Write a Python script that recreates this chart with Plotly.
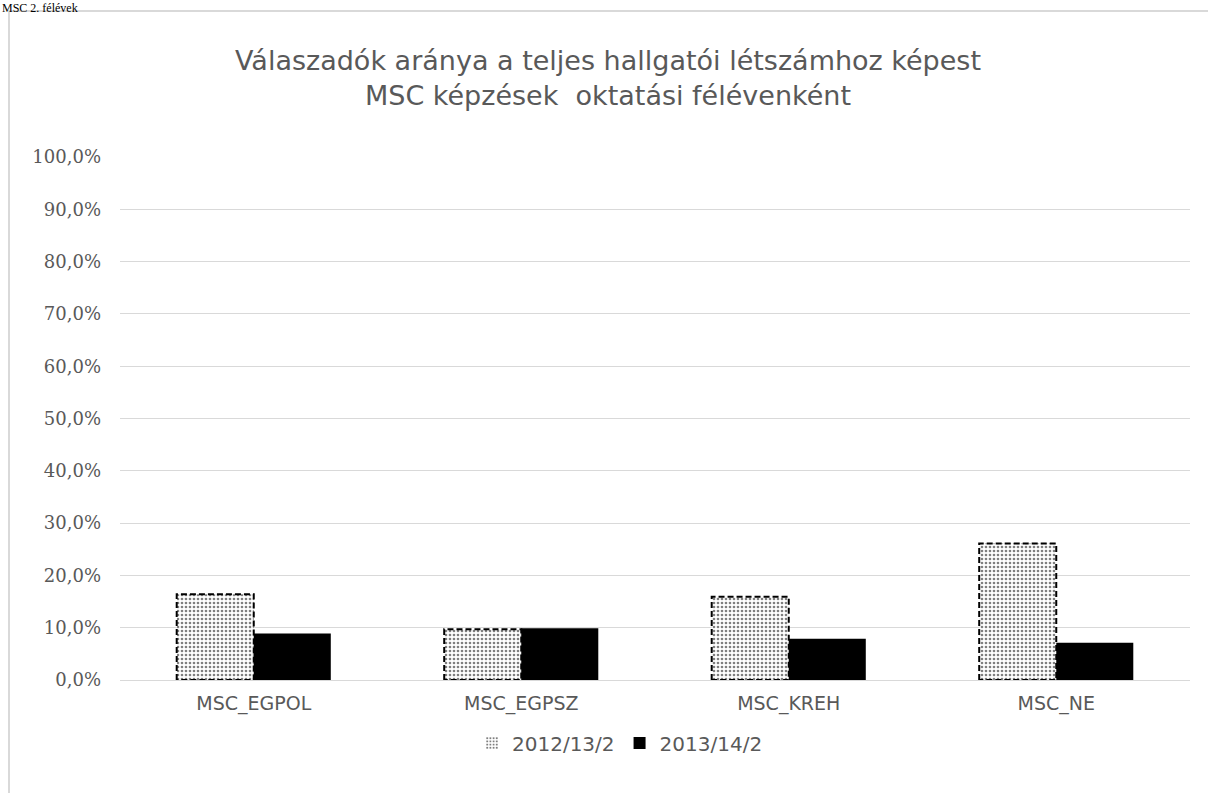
import plotly.graph_objects as go

categories = ["MSC_EGPOL", "MSC_EGPSZ", "MSC_KREH", "MSC_NE"]
series_names = ["2012/13/2", "2013/14/2"]
values_2012 = [16.4, 9.7, 15.9, 26.1]
values_2013 = [8.9, 9.9, 7.9, 7.1]
y_ticks = [0, 10, 20, 30, 40, 50, 60, 70, 80, 90, 100]
y_tick_labels = ["0,0%", "10,0%", "20,0%", "30,0%", "40,0%", "50,0%",
                 "60,0%", "70,0%", "80,0%", "90,0%", "100,0%"]

W = 0.288  # bar width (style)
xs = list(range(len(categories)))

fig = go.Figure()
fig.add_trace(go.Bar(
    x=xs, y=values_2012, name=series_names[0],
    width=W, offset=-W,
    marker=dict(color="white", line=dict(width=0),
                pattern=dict(shape=".", fgcolor="#000000", bgcolor="#ffffff",
                             size=4, solidity=0.35)),
))
fig.add_trace(go.Bar(
    x=xs, y=values_2013, name=series_names[1],
    width=W, offset=0,
    marker=dict(color="#000000", line=dict(width=0)),
))

# dashed outline of the patterned bars, built from the data
ox, oy = [], []
for i, v in zip(xs, values_2012):
    ox += [i - W, i - W, i, i, i - W, None]
    oy += [0, v, v, 0, 0, None]
fig.add_trace(go.Scatter(
    x=ox, y=oy, mode="lines", showlegend=False, hoverinfo="skip",
    line=dict(color="#000000", width=2, dash="6px,3px"),
))

L, T, R, B = 120, 157, 18, 113
FW, FH = 1208, 793
PW, PH = FW - L - R, FH - T - B
Y0 = FH - B  # pixel row of the 0% line

fig.update_layout(
    width=FW, height=FH,
    margin=dict(l=L, r=R, t=T, b=B),
    paper_bgcolor="white", plot_bgcolor="white",
    barmode="overlay",
    title=dict(
        text="Válaszadók aránya a teljes hallgatói létszámhoz képest<br>MSC képzések  oktatási félévenként",
        x=608 / FW, xref="container", xanchor="center",
        y=1 - 70 / FH, yref="container", yanchor="top",
        font=dict(family="DejaVu Sans", size=27, color="#595959"),
    ),
    xaxis=dict(
        range=[-0.5, 3.5], tickvals=xs, ticktext=categories,
        showgrid=False, zeroline=False, showline=False, ticks="",
        tickfont=dict(family="DejaVu Sans", size=19, color="#595959"),
        ticklabelstandoff=10,
    ),
    yaxis=dict(
        range=[0, 100], tickvals=y_ticks, ticktext=y_tick_labels,
        showgrid=True, gridcolor="#d9d9d9", gridwidth=1,
        zeroline=True, zerolinecolor="#d9d9d9", zerolinewidth=1,
        showline=False, ticks="",
        tickfont=dict(family="DejaVu Serif", size=18, color="#595959"),
        ticklabelstandoff=18,
    ),
    legend=dict(
        orientation="h", x=(620 - L) / PW, xanchor="center",
        y=(Y0 - 743) / PH, yanchor="middle",
        font=dict(family="DejaVu Sans", size=20, color="#595959"),
        itemwidth=30,
    ),
    showlegend=True,
)

# outer chart frame
fig.add_shape(type="rect", xref="paper", yref="paper",
              x0=(9 - L) / PW, x1=(1220 - L) / PW,
              y0=(Y0 - 810) / PH, y1=(Y0 - 11) / PH,
              line=dict(color="#d9d9d9", width=2), fillcolor="rgba(0,0,0,0)",
              layer="below")

fig.add_annotation(
    text="MSC 2. félévek", xref="paper", yref="paper",
    x=(0 - L) / PW, y=(Y0 - 17) / PH, xanchor="left", yanchor="bottom",
    showarrow=False, font=dict(family="Liberation Serif", size=12, color="#000000"),
)

fig.write_html("out.html", config={"displayModeBar": False},
               post_script="document.body.style.margin='0';")
